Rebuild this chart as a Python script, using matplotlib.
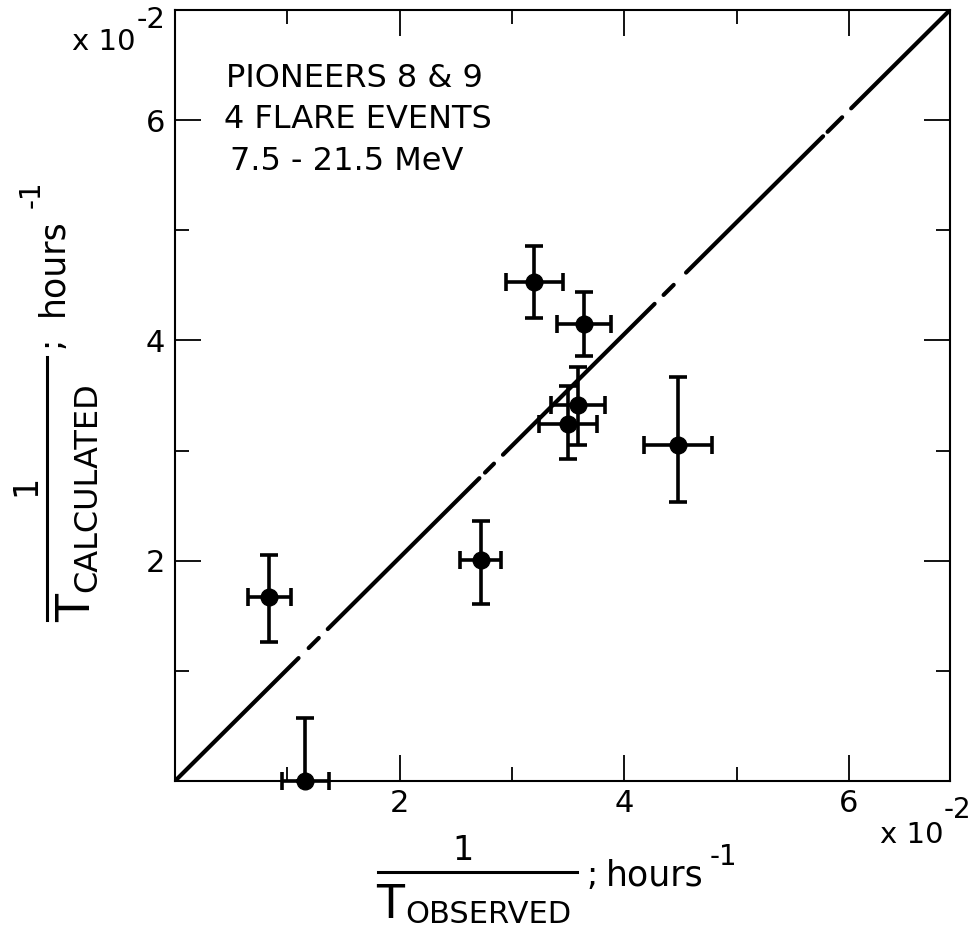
import numpy as np
import matplotlib
matplotlib.use("Agg")
import matplotlib.pyplot as plt
from matplotlib.lines import Line2D

# 1/T_observed vs 1/T_calculated (units of 1e-2 per hour)
x_obs = [0.84, 1.16, 2.72, 3.20, 3.64, 3.59, 3.50, 4.48]
y_calc = [1.67, 0.00, 2.01, 4.53, 4.15, 3.41, 3.24, 3.05]
x_err = [0.19, 0.21, 0.18, 0.25, 0.24, 0.24, 0.26, 0.30]
y_err_lo = [0.41, 0.00, 0.40, 0.33, 0.29, 0.36, 0.32, 0.52]
y_err_hi = [0.38, 0.57, 0.35, 0.33, 0.29, 0.35, 0.35, 0.62]

x_max, y_max = 6.9, 7.0
major_ticks = [2, 4, 6]
minor_ticks = [1, 3, 5]
header = ["PIONEERS 8 & 9", "4 FLARE EVENTS", "7.5 - 21.5 MeV"]

# pieces of the hand-drawn diagonal, gaps between them
diag_pieces = [(0, 1.10), (1.19, 1.28), (1.36, 2.71), (2.76, 2.84), (2.92, 4.27),
               (4.35, 4.44), (4.55, 5.77), (5.81, 5.94), (6.02, 6.9)]

W, H = 974, 931
fig = plt.figure(figsize=(W / 100, H / 100), dpi=100)
ax = fig.add_axes([175 / W, 1 - 781 / H, 775 / W, 771 / H])
ax.set_xlim(0, x_max)
ax.set_ylim(0, y_max)

for a, b in diag_pieces:
    ax.plot([a / x_max, b / x_max], [a / x_max, b / x_max], color="black", lw=3,
            solid_capstyle="round", transform=ax.transAxes)

eb = ax.errorbar(x_obs, y_calc, xerr=x_err, yerr=[y_err_lo, y_err_hi], fmt="o",
                 color="black", ms=12, elinewidth=2.6, capsize=6.5, capthick=2.6)
for art in eb.get_children():
    art.set_clip_on(False)

ax.set_xticks(major_ticks)
ax.set_yticks(major_ticks)
ax.set_xticks(minor_ticks, minor=True)
ax.set_yticks(minor_ticks, minor=True)
ax.tick_params(which="both", direction="in", top=True, right=True, width=1.3,
               labelsize=22, color="black")
ax.tick_params(which="major", length=19)
ax.tick_params(which="minor", length=10)
ax.tick_params(axis="x", pad=6)
ax.tick_params(axis="y", pad=7)
for sp in ax.spines.values():
    sp.set_linewidth(1.5)

# header text
for txt, (px, py) in zip(header, [(226, 87), (224, 128), (230, 170)]):
    fig.text(px / W, 1 - py / H, txt, fontsize=23, ha="left", va="baseline")


def ftext(px, py, s, **kw):
    fig.text(px / W, 1 - py / H, s, rotation_mode="anchor", **kw)


# x 10^-2 multipliers
ftext(135, 50, "x 10", fontsize=21, ha="right", va="baseline")
ftext(137, 28, "-2", fontsize=21, ha="left", va="baseline")
ftext(943, 843, "x 10", fontsize=21, ha="right", va="baseline")
ftext(944, 818, "-2", fontsize=20, ha="left", va="baseline")

# bottom label: 1 / T_OBSERVED ; hours^-1
ftext(463, 860, "1", fontsize=24, ha="center", va="baseline")
fig.add_artist(Line2D([378 / W, 577 / W], [1 - 872 / H, 1 - 872 / H], lw=2.2,
                      color="black", transform=fig.transFigure))
ftext(376, 918, "T", fontsize=33, ha="left", va="baseline")
ftext(405, 923, "OBSERVED", fontsize=22, ha="left", va="baseline")
ftext(586, 885, ";", fontsize=24, ha="left", va="baseline")
ftext(606, 885, "hours", fontsize=25, ha="left", va="baseline")
ftext(710, 865, "-1", fontsize=20, ha="left", va="baseline")

# left label: 1 / T_CALCULATED ; hours^-1 (rotated)
ftext(35, 485, "1", fontsize=24, ha="center", va="baseline", rotation=90)
fig.add_artist(Line2D([47 / W, 47 / W], [1 - 357 / H, 1 - 620 / H], lw=2.2,
                      color="black", transform=fig.transFigure))
ftext(90, 622, "T", fontsize=33, ha="left", va="baseline", rotation=90)
ftext(96, 592, "CALCULATED", fontsize=23, ha="left", va="baseline", rotation=90)
ftext(60, 348, ";", fontsize=24, ha="left", va="baseline", rotation=90)
ftext(62, 316, "hours", fontsize=25, ha="left", va="baseline", rotation=90)
ftext(40, 208, "-1", fontsize=20, ha="left", va="baseline", rotation=90)

fig.savefig("out.png", dpi=100)
